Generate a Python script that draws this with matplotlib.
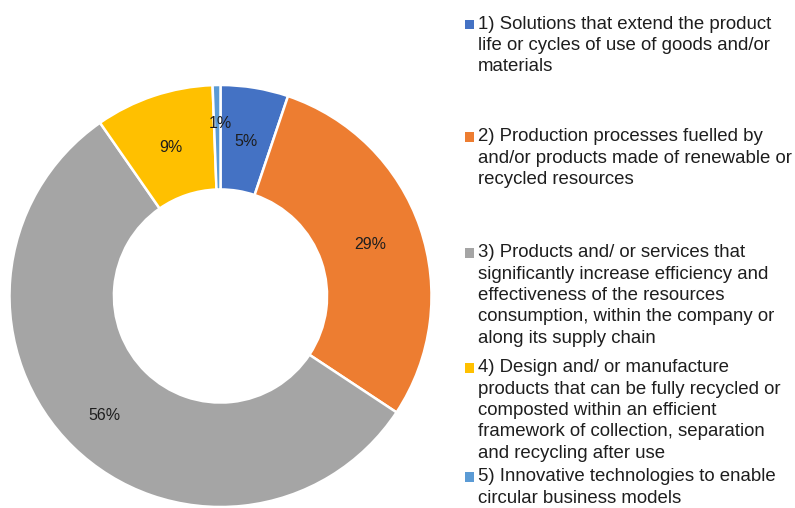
import matplotlib.pyplot as plt
import numpy as np

plt.rcParams['font.family'] = ['Liberation Sans', 'DejaVu Sans']

# share of answers (%), clockwise from 12 o'clock
shares = [5.2, 29.2, 56.2, 9.1, 0.6]
categories = [
    "1) Solutions that extend the product\nlife or cycles of use of goods and/or\nmaterials",
    "2) Production processes fuelled by\nand/or products made of renewable or\nrecycled resources",
    "3) Products and/ or services that\nsignificantly increase efficiency and\neffectiveness of the resources\nconsumption, within the company or\nalong its supply chain",
    "4) Design and/ or manufacture\nproducts that can be fully recycled or\ncomposted within an efficient\nframework of collection, separation\nand recycling after use",
    "5) Innovative technologies to enable\ncircular business models",
]
colors = ['#4472C4', '#ED7D31', '#A5A5A5', '#FFC000', '#5B9BD5']

# label distance from centre (fraction of outer radius), per slice
label_dist = [0.74, 0.75, 0.79, 0.74, 0.82]
# legend first-line baselines, px from top
legend_base = [29.5, 142, 258, 373, 482]

W, H = 795, 508
fig = plt.figure(figsize=(W / 100, H / 100), dpi=100)

cx, cy, R = 220.5, 296, 211
ax = fig.add_axes([(cx - R) / W, (H - cy - R) / H, 2 * R / W, 2 * R / H])
wedges, texts, autotexts = ax.pie(
    shares, colors=colors, startangle=90, counterclock=False,
    radius=1, autopct='%.0f%%',
    wedgeprops=dict(width=0.495, edgecolor='white', linewidth=1.8),
    textprops=dict(fontsize=11.5, color='#1e1e1e'))
for w, t, d in zip(wedges, autotexts, label_dist):
    ang = np.deg2rad((w.theta1 + w.theta2) / 2)
    t.set_position((d * np.cos(ang), d * np.sin(ang)))
# the tiny slice's label sits right on the 12 o'clock line
autotexts[-1].set_x(0)
ax.set_xlim(-1, 1)
ax.set_ylim(-1, 1)
ax.set_aspect('equal')
ax.axis('off')

for label, col, yb in zip(categories, colors, legend_base):
    # va='top' puts the box top about one ascent above the first baseline
    fig.text(477.5 / W, 1 - (yb - 13.6) / H, label, fontsize=13.4, color='#1e1e1e',
             va='top', ha='left', linespacing=1.33)
    sq = plt.Rectangle((464.5 / W, 1 - (yb - 0.5) / H), 9.5 / W, 9.5 / H,
                       transform=fig.transFigure, color=col, lw=0)
    fig.add_artist(sq)

fig.savefig('out.png', dpi=100)
